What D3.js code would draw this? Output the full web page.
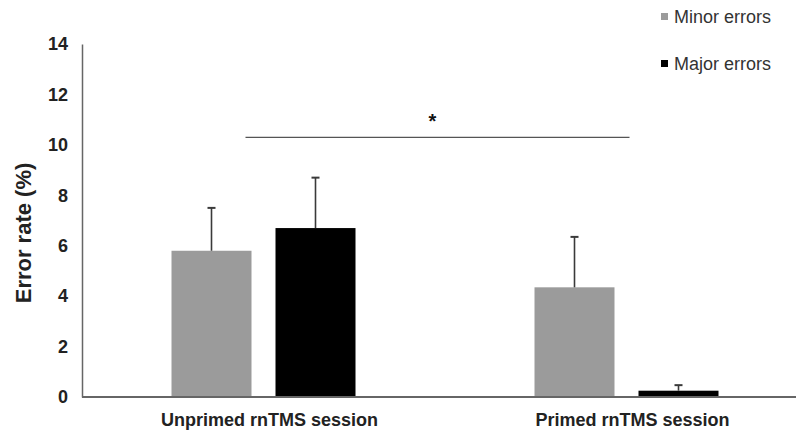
<!DOCTYPE html>
<html>
<head>
<meta charset="utf-8">
<title>Error rate</title>
<script src="https://d3js.org/d3.v7.min.js"></script>
<style>
  body { margin: 0; background: #fff; }
  text { font-family: "Liberation Sans", Arial, sans-serif; }
</style>
</head>
<body>
<svg id="chart" width="796" height="433"></svg>
<script>
// data
var categories = ["Unprimed rnTMS session", "Primed rnTMS session"];
var series = ["Minor errors", "Major errors"];
var minorErrors = [5.8, 4.35];
var minorSE = [1.7, 2.0];
var majorErrors = [6.7, 0.25];
var majorSE = [2.0, 0.22];
var yTicks = [0, 2, 4, 6, 8, 10, 12, 14];
var sigLevel = 10.3;

var colors = { "Minor errors": "#9b9b9b", "Major errors": "#000000" };

var svg = d3.select("#chart");
var W = 796;

var y = d3.scaleLinear().domain([0, 14]).range([397, 44]);
var x = d3.scaleBand().domain(categories).range([82, 808]).padding(0);
// bars within a category, centred on the band
var xs = d3.scaleBand().domain(series).range([-92, 92]).paddingInner(0.2308);

var rows = [];
categories.forEach(function(c, i) {
  rows.push({cat: c, s: "Minor errors", v: minorErrors[i], se: minorSE[i]});
  rows.push({cat: c, s: "Major errors", v: majorErrors[i], se: majorSE[i]});
});
function cx(d) { return x(d.cat) + x.bandwidth() / 2 + xs(d.s); }

// bars
svg.append("g").selectAll("rect").data(rows).enter().append("rect")
  .attr("x", cx)
  .attr("y", function(d) { return y(d.v); })
  .attr("width", xs.bandwidth())
  .attr("height", function(d) { return y(0) - y(d.v); })
  .attr("fill", function(d) { return colors[d.s]; });

// error bars (upper only)
var eb = svg.append("g").attr("stroke", "#3a3a3a").attr("stroke-width", 1.6);
eb.selectAll("line.v").data(rows).enter().append("line").attr("class", "v")
  .attr("x1", function(d) { return cx(d) + xs.bandwidth() / 2; })
  .attr("x2", function(d) { return cx(d) + xs.bandwidth() / 2; })
  .attr("y1", function(d) { return y(d.v); })
  .attr("y2", function(d) { return y(d.v + d.se); });
eb.selectAll("line.c").data(rows).enter().append("line").attr("class", "c")
  .attr("x1", function(d) { return cx(d) + xs.bandwidth() / 2 - 4; })
  .attr("x2", function(d) { return cx(d) + xs.bandwidth() / 2 + 4; })
  .attr("y1", function(d) { return y(d.v + d.se); })
  .attr("y2", function(d) { return y(d.v + d.se); })
  .attr("stroke-width", 2);

// y axis
var yAxis = svg.append("g").attr("transform", "translate(82,0)")
  .call(d3.axisLeft(y).tickValues(yTicks).tickSize(0).tickPadding(14));
yAxis.select(".domain").attr("stroke", "#666").attr("stroke-width", 1.5);
yAxis.selectAll("text").attr("font-size", 18).attr("font-weight", "bold")
  .attr("fill", "#222").attr("font-family", "Liberation Sans, Arial, sans-serif");

// x axis
svg.append("line").attr("x1", 82).attr("x2", W).attr("y1", y(0)).attr("y2", y(0))
  .attr("stroke", "#666").attr("stroke-width", 2);
svg.append("g").selectAll("text").data(categories).enter().append("text")
  .attr("x", function(d) { return x(d) + x.bandwidth() / 2 + 6; })
  .attr("y", 426)
  .attr("text-anchor", "middle")
  .attr("font-size", 18).attr("font-weight", "bold").attr("fill", "#222")
  .text(function(d) { return d; });

// y title
svg.append("text").attr("transform", "translate(31,233) rotate(-90)")
  .attr("text-anchor", "middle").attr("font-size", 22).attr("font-weight", "bold")
  .attr("fill", "#222").text("Error rate (%)");

// significance bracket
var sx0 = x(categories[0]) + x.bandwidth() / 2 - 18;
var sx1 = x(categories[1]) + x.bandwidth() / 2 + 3;
svg.append("line").attr("x1", sx0).attr("x2", sx1)
  .attr("y1", y(sigLevel)).attr("y2", y(sigLevel))
  .attr("stroke", "#555").attr("stroke-width", 1.3);
svg.append("text").attr("x", (sx0 + sx1) / 2 - 5).attr("y", y(sigLevel) - 9)
  .attr("text-anchor", "middle").attr("font-size", 20).attr("font-weight", "bold")
  .attr("fill", "#111").text("*");

// legend
var leg = svg.append("g").selectAll("g").data(series).enter().append("g")
  .attr("transform", function(d, i) { return "translate(661," + (13 + i * 47) + ")"; });
leg.append("rect").attr("width", 7).attr("height", 7)
  .attr("fill", function(d) { return colors[d]; });
leg.append("text").attr("x", 13).attr("y", 10)
  .attr("font-size", 18).attr("fill", "#333").text(function(d) { return d; });
</script>
</body>
</html>
